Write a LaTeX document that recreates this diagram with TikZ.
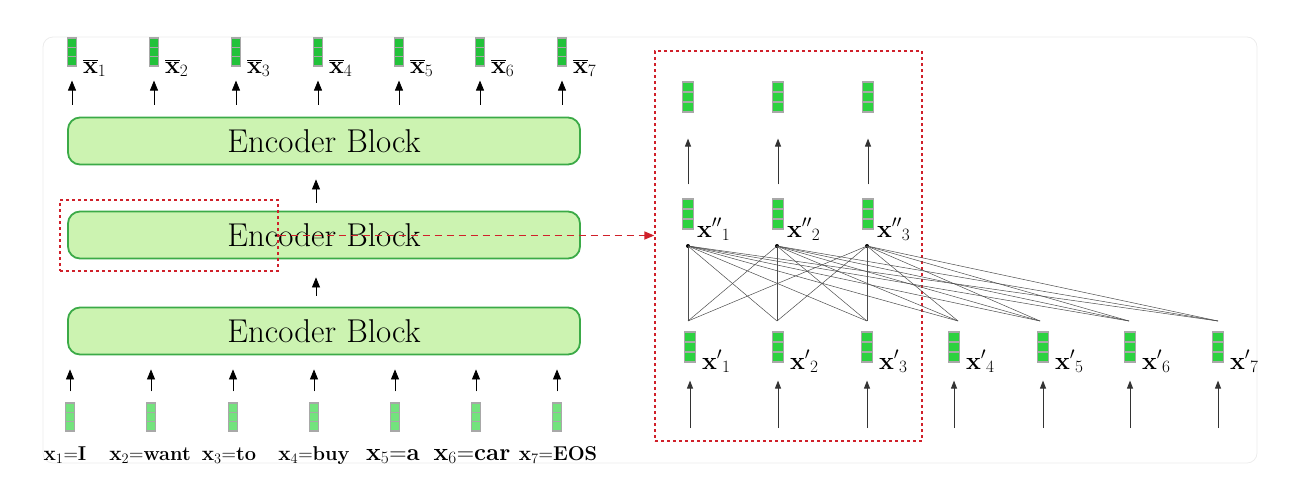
\documentclass[tikz,border=0pt]{standalone}
\usetikzlibrary{arrows.meta,calc}
\definecolor{encfill}{HTML}{CCF3B1}
\definecolor{encdraw}{HTML}{3BAA47}
\definecolor{vtop}{HTML}{22C23A}
\definecolor{vbot}{HTML}{73E37D}
\definecolor{vright}{HTML}{2CD240}
\definecolor{vcell}{HTML}{A8A8A8}
\definecolor{redd}{HTML}{D0202A}
\definecolor{frame}{HTML}{ECECEC}
\begin{document}
\begin{tikzpicture}[x=1pt,y=-1pt,
  vec/.style={draw=vcell, line width=1.1pt, fill=#1, minimum width=9pt, minimum height=28pt, inner sep=0pt,
    path picture={\draw[vcell,line width=1.1pt]
      ($(path picture bounding box.north west)!1/3!(path picture bounding box.south west)$) --
      ($(path picture bounding box.north east)!1/3!(path picture bounding box.south east)$)
      ($(path picture bounding box.north west)!2/3!(path picture bounding box.south west)$) --
      ($(path picture bounding box.north east)!2/3!(path picture bounding box.south east)$);}},
  bigvec/.style={vec=#1, minimum width=11pt, minimum height=30pt},
  enc/.style={draw=encdraw, fill=encfill, line width=1.8pt, rounded corners=12pt, minimum width=512pt,
    minimum height=47pt, inner sep=0pt, font=\fontsize{33}{36}\selectfont},
  arr/.style={-{Triangle[length=10pt,width=8pt]}, line width=0.8pt, black},
  arrs/.style={-{Triangle[length=8pt,width=6pt]}, line width=0.9pt, black!80},
  att/.style={line width=0.5pt, black!70},
  reddot/.style={draw=redd, line width=1.4pt, dash pattern=on 3pt off 3pt},
  lab/.style={inner sep=0pt, anchor=base west, font=\fontsize{#1}{#1}\selectfont},
  blab/.style={inner sep=0pt, anchor=base, font=\fontsize{#1}{#1}\selectfont},
]
\useasboundingbox (0,0) rectangle (1316,491);
\draw[frame, line width=0.8pt, rounded corners=10pt] (43,37) rectangle (1257,463);

% encoder blocks
\node[enc] (e1) at (324,141) {Encoder Block};
\node[enc] (e2) at (324,235) {Encoder Block};
\node[enc] (e3) at (324,331) {Encoder Block};
\draw[arr, shorten <=8pt, shorten >=14pt] ([xshift=-8pt]e2.north) -- ([xshift=-8pt]e1.south);
\draw[arr, shorten <=11pt, shorten >=18pt] ([xshift=-8pt]e3.north) -- ([xshift=-8pt]e2.south);

% top outputs
\foreach \i/\x in {1/72,2/154,3/236,4/318,5/399,6/480,7/562}{
  \node[vec=vtop] (t\i) at (\x,52) {};
  \node[lab=25] (tl\i) at (\x+11,73) {$\overline{\mathbf{x}}_{\i}$};
  \draw[arr, shorten <=12pt, shorten >=14pt] (e1.north -| t\i) -- (t\i.south);
}

% bottom inputs
\foreach \i/\x in {1/70,2/151,3/233,4/314,5/395,6/476,7/557}{
  \node[vec=vbot] (b\i) at (\x,417) {};
  \draw[arr, shorten <=11pt, shorten >=14pt] (b\i.north) -- (e3.south -| b\i);
}
\node[blab=20] (bl1) at (65,460) {$\mathbf{x}_1$=\textbf{I}};
\node[blab=20] (bl2) at (150,460) {$\mathbf{x}_2$=\textbf{want}};
\node[blab=20] (bl3) at (229,460) {$\mathbf{x}_3$=\textbf{to}};
\node[blab=20] (bl4) at (314,460) {$\mathbf{x}_4$=\textbf{buy}};
\node[blab=24] (bl5) at (393,460) {$\mathbf{x}_5$=\textbf{a}};
\node[blab=24] (bl6) at (472,460) {$\mathbf{x}_6$=\textbf{car}};
\node[blab=20] (bl7) at (558,460) {$\mathbf{x}_7$=\textbf{EOS}};

% selection and zoom
\node[reddot, minimum width=218pt, minimum height=71pt, inner sep=0pt] (sel) at (169,235.5) {};
\node[reddot, minimum width=267pt, minimum height=390pt, inner sep=0pt] (big) at (788.5,246) {};
\draw[redd, line width=1.7pt, dash pattern=on 7pt off 5pt, -{Triangle[length=10pt,width=8pt]}]
  (sel.east) -- (sel.east -| big.west);

% right side: attention
\foreach \i/\x in {1/688,2/778,3/868}{
  \node[bigvec=vright] (r\i) at (\x,97) {};
  \node[bigvec=vright] (m\i) at (\x,214) {};
  \node[lab=23] (ml\i) at (\x+9,237) {${\mathbf{x}''}_{\i}$};
  \draw[arrs, shorten <=14pt, shorten >=26pt] (m\i.north) -- (r\i.south);
}
\foreach \i/\x in {1/688,2/777,3/867}{
  \fill (\x,246) circle (2pt) coordinate (d\i);
}
\foreach \j/\x in {1/688,2/777,3/867,4/958,5/1040,6/1129,7/1218}{
  \coordinate (p\j) at (\x,321);
}
\foreach \i in {1,2,3}{
  \foreach \j in {1,...,7}{
    \draw[att] (d\i) -- (p\j);
  }
}
\foreach \j/\x in {1/690,2/778,3/867,4/954,5/1043,6/1130,7/1218}{
  \node[bigvec=vright] (q\j) at (\x,347) {};
  \node[lab=23] (ql\j) at (\x+12,369) {${\mathbf{x}'}_{\j}$};
  \coordinate (s\j) at (\x,428);
  \draw[arrs, shorten >=18pt] (s\j) -- (q\j.south);
}
\end{tikzpicture}
\end{document}
